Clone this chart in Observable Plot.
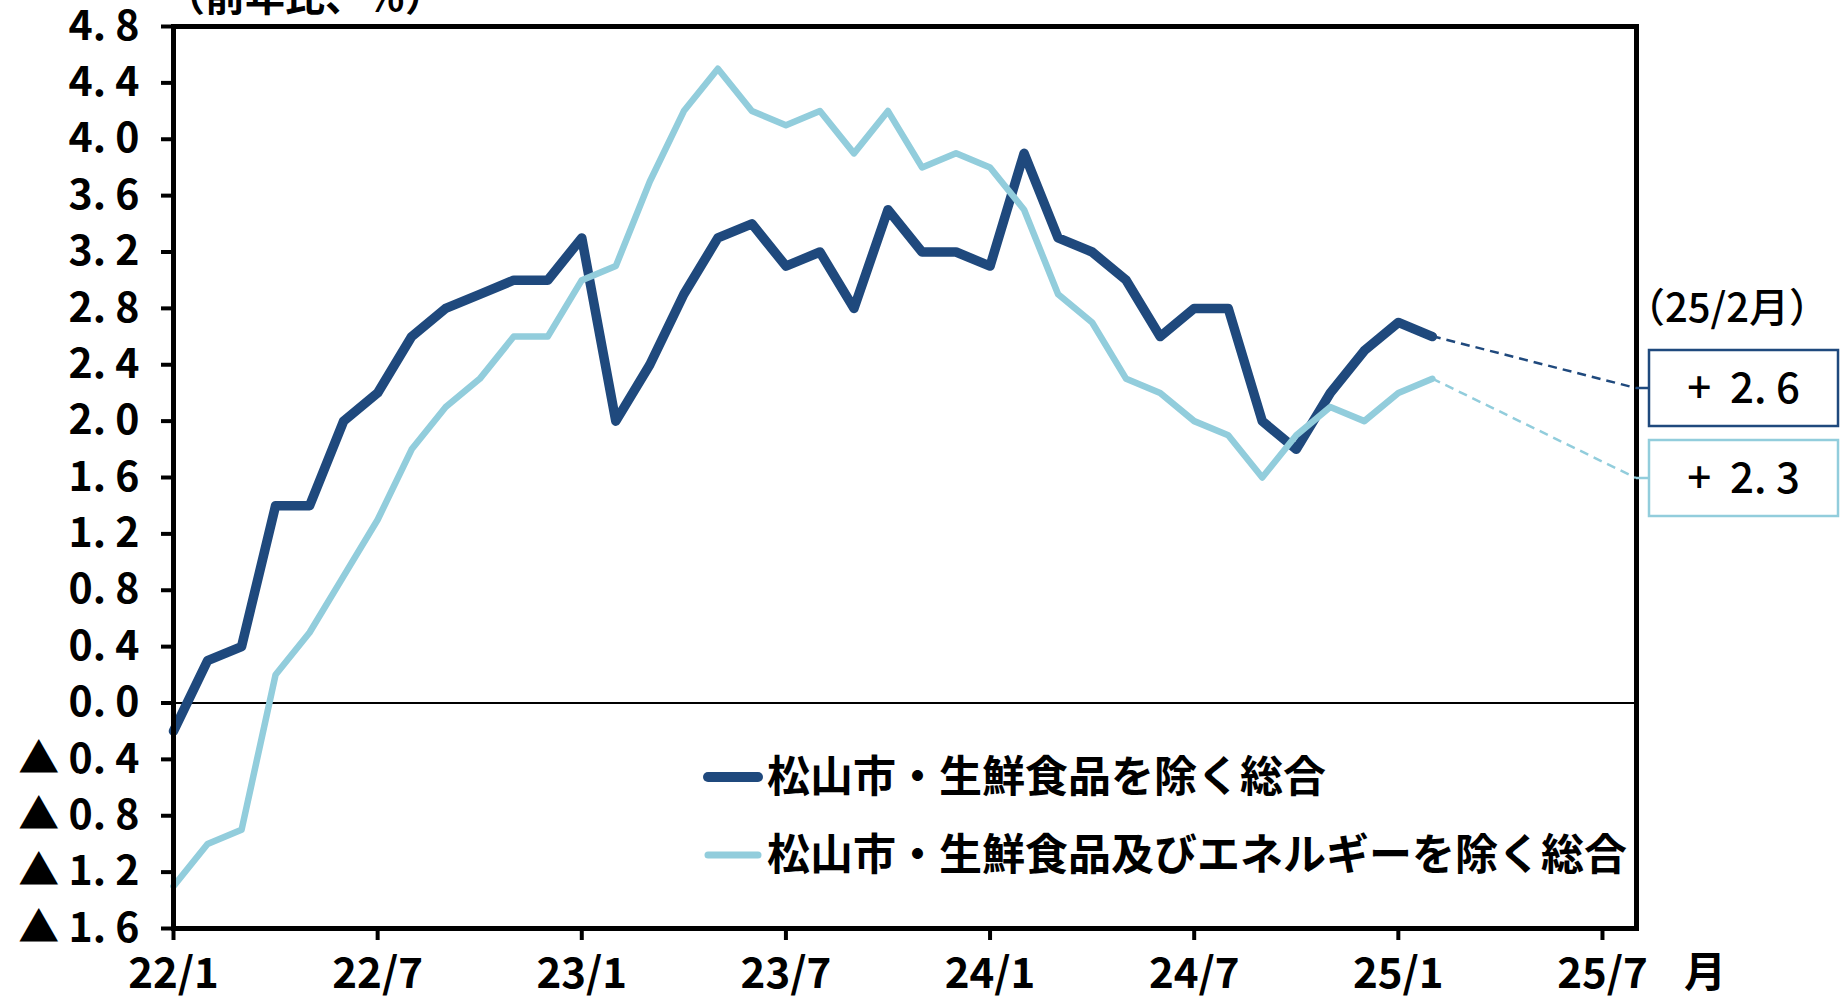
<!DOCTYPE html>
<html><head><meta charset="utf-8">
<script src="https://cdn.jsdelivr.net/npm/d3@7"></script>
<script src="https://cdn.jsdelivr.net/npm/@observablehq/plot@0.6"></script>
<style>
html,body{margin:0;padding:0;background:#fff;overflow:hidden;}
#chart svg{display:block;}
</style></head><body><div id="chart"></div>
<script>
// ---- data ----
const xTickIndex = [0, 6, 12, 18, 24, 30, 36, 42];
const xTickLabels = ["22/1", "22/7", "23/1", "23/7", "24/1", "24/7", "25/1", "25/7"];
const yTicks = [-1.6, -1.2, -0.8, -0.4, 0, 0.4, 0.8, 1.2, 1.6, 2.0, 2.4, 2.8, 3.2, 3.6, 4.0, 4.4, 4.8];
const seriesNames = ["松山市・生鮮食品を除く総合", "松山市・生鮮食品及びエネルギーを除く総合"];
// 22/1 .. 25/2 (38 months)
const coreValues = [-0.2, 0.3, 0.4, 1.4, 1.4, 2.0, 2.2, 2.6, 2.8, 2.9, 3.0, 3.0,
                    3.3, 2.0, 2.4, 2.9, 3.3, 3.4, 3.1, 3.2, 2.8, 3.5, 3.2, 3.2,
                    3.1, 3.9, 3.3, 3.2, 3.0, 2.6, 2.8, 2.8, 2.0, 1.8, 2.2, 2.5,
                    2.7, 2.6];
const coreCoreValues = [-1.3, -1.0, -0.9, 0.2, 0.5, 0.9, 1.3, 1.8, 2.1, 2.3, 2.6, 2.6,
                        3.0, 3.1, 3.7, 4.2, 4.5, 4.2, 4.1, 4.2, 3.9, 4.2, 3.8, 3.9,
                        3.8, 3.5, 2.9, 2.7, 2.3, 2.2, 2.0, 1.9, 1.6, 1.9, 2.1, 2.0,
                        2.2, 2.3];
const latestLabel = "（25/2月）";
const latestTexts = ["+\u00a0\u00a02.\u00a06", "+\u00a0\u00a02.\u00a03"];
const yTitle = "（前年比、％）";
const xUnit = "月";
const colors = ["#1F497D", "#92CDDC"];

// ---- layout ----
const W = 1841, H = 998;
const FONT = "'Noto Sans CJK JP', 'Noto Sans', sans-serif";
const mL = 173, mR = 205, mT = 26, mB = 70;

const rowsCore = coreValues.map((v, i) => ({i, v}));
const rowsCoreCore = coreCoreValues.map((v, i) => ({i, v}));

const fmtY = d => {
  const s = Math.abs(d).toFixed(1).replace(".", ".\u00a0");
  return d < 0 ? "▲\u00a0" + s : s;
};

const plot = Plot.plot({
  width: W, height: H,
  marginLeft: mL, marginRight: mR, marginTop: mT, marginBottom: mB,
  style: {fontFamily: FONT, fontSize: "40px", color: "black", background: "white", overflow: "visible"},
  x: {type: "linear", domain: [0, 43]},
  y: {domain: [-1.6, 4.8]},
  marks: [
    Plot.ruleY([0], {stroke: "black", strokeWidth: 2}),
    Plot.line(rowsCore, {x: "i", y: "v", stroke: colors[0], strokeWidth: 9.5, strokeLinejoin: "round", strokeLinecap: "round"}),
    Plot.line(rowsCoreCore, {x: "i", y: "v", stroke: colors[1], strokeWidth: 6.5, strokeLinejoin: "round", strokeLinecap: "round"}),
    Plot.axisY({ticks: yTicks, tickFormat: fmtY, tickSize: 12, tickPadding: 22, strokeWidth: 4,
                fontSize: 41, fontWeight: 600, label: null}),
    Plot.axisX({ticks: xTickIndex, tickFormat: d => xTickLabels[xTickIndex.indexOf(d)],
                tickSize: 12, tickPadding: 18, strokeWidth: 4, fontSize: 42, fontWeight: 600, label: null}),
    Plot.frame({stroke: "black", strokeWidth: 5})
  ]
});
document.getElementById("chart").appendChild(plot);

// ---- annotations ----
const svg = d3.select(plot);
const sx = plot.scale("x"), sy = plot.scale("y");
const g = svg.append("g").attr("font-family", FONT).attr("fill", "black").attr("text-anchor", "start");

// y title (clipped at top as in the original)
g.append("text").attr("x", 165).attr("y", 11).attr("text-anchor", "start")
  .attr("font-size", 40).attr("font-weight", "bold").text(yTitle);
// x unit
g.append("text").attr("x", 1705).attr("y", 972).attr("dy", "0.36em").attr("text-anchor", "middle")
  .attr("font-size", 42).attr("font-weight", 600).text(xUnit);

// legend
const legY = [777, 855];
const legW = [10, 7];
seriesNames.forEach((name, k) => {
  g.append("line").attr("x1", 708).attr("x2", 758).attr("y1", legY[k]).attr("y2", legY[k])
    .attr("stroke", colors[k]).attr("stroke-width", legW[k]).attr("stroke-linecap", "round");
  g.append("text").attr("x", 767).attr("y", legY[k]).attr("dy", "0.36em").attr("text-anchor", "start")
    .attr("font-size", 43).attr("font-weight", "bold").text(name);
});

// latest value boxes with leaders
const frameRight = W - mR;
const boxX = 1649, boxW = 189, boxH = 76;
const boxTop = [350, 440];
g.append("text").attr("x", 1625).attr("y", 308).attr("dy", "0.36em").attr("text-anchor", "start")
  .attr("font-size", 40).attr("font-weight", 500).text(latestLabel);
const lastVals = [coreValues[coreValues.length - 1], coreCoreValues[coreCoreValues.length - 1]];
const lastIdx = coreValues.length - 1;
lastVals.forEach((v, k) => {
  const cy = boxTop[k] + boxH / 2;
  g.append("line").attr("x1", sx.apply(lastIdx)).attr("y1", sy.apply(v))
    .attr("x2", frameRight).attr("y2", cy)
    .attr("stroke", colors[k]).attr("stroke-width", 2.5).attr("stroke-dasharray", "9,6");
  g.append("line").attr("x1", frameRight).attr("y1", cy).attr("x2", boxX).attr("y2", cy)
    .attr("stroke", colors[k]).attr("stroke-width", 2.5);
  g.append("rect").attr("x", boxX).attr("y", boxTop[k]).attr("width", boxW).attr("height", boxH)
    .attr("fill", "white").attr("stroke", colors[k]).attr("stroke-width", 2.5);
  g.append("text").attr("x", boxX + boxW / 2).attr("y", cy).attr("dy", "0.36em")
    .attr("text-anchor", "middle").attr("font-size", 42).attr("font-weight", 500)
    .text(latestTexts[k]);
});
</script></body></html>
